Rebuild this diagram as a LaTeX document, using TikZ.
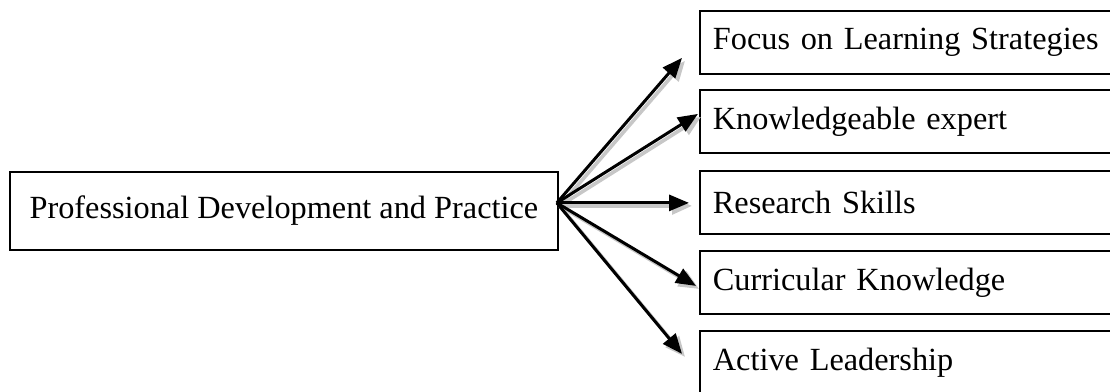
\documentclass[tikz,border=0pt]{standalone}
\usepackage{fontspec}
\setmainfont{Liberation Serif}
\usetikzlibrary{arrows.meta,calc}

\tikzset{
  mainbox/.style={draw, line width=1.8pt, minimum width=548pt, minimum height=78pt,
    inner sep=0pt, font=\fontsize{32.3}{38}\selectfont, anchor=north west},
  itembox/.style={draw, line width=1.8pt, minimum height=63pt, text width=420pt,
    inner xsep=13pt, inner ysep=0pt, align=left, font=\fontsize{32.3}{38}\selectfont,
    anchor=north west},
  link/.style={line width=3pt, -{Triangle[length=20pt, width=16pt]}},
  linkshade/.style={line width=3.6pt, draw=black!22,
    -{Triangle[length=20pt, width=17pt, fill=black!22]}}
}

\begin{document}
\begin{tikzpicture}[x=1pt, y=-1pt]
  \useasboundingbox (0,0) rectangle (1110,391);
  \clip (0,0) rectangle (1110,391);

  % source box
  \node[mainbox] (main) at (9,171) {Professional Development and Practice};
  \coordinate (hub) at ($(main.east)+(-2,-8)$);

  % target boxes, running past the right edge
  \node[itembox] (b1) at (699,10)  {Focus on Learning Strategies};
  \node[itembox] (b2) at (699,89)  {Knowledgeable expert};
  \node[itembox] (b3) at (699,170) {Research Skills};
  \node[itembox] (b4) at (699,250) {Curricular Knowledge};
  \node[itembox] (b5) at (699,330) {Active Leadership};

  % arrow tips
  \coordinate (t1) at ($(b1.west)+(-17,15.5)$);
  \coordinate (t2) at ($(b2.west)+(-1,-7.5)$);
  \coordinate (t3) at ($(b3.west)+(-10,0.5)$);
  \coordinate (t4) at ($(b4.west)+(-3,3.5)$);
  \coordinate (t5) at ($(b5.west)+(-17,-8.5)$);

  % soft shadows under the arrows
  \foreach \t in {t1,t2,t3,t4,t5}
    \draw[linkshade, transform canvas={shift={(3pt,-3pt)}}] (hub) -- (\t);

  % arrows
  \foreach \t in {t1,t2,t3,t4,t5}
    \draw[link] (hub) -- (\t);
\end{tikzpicture}
\end{document}
